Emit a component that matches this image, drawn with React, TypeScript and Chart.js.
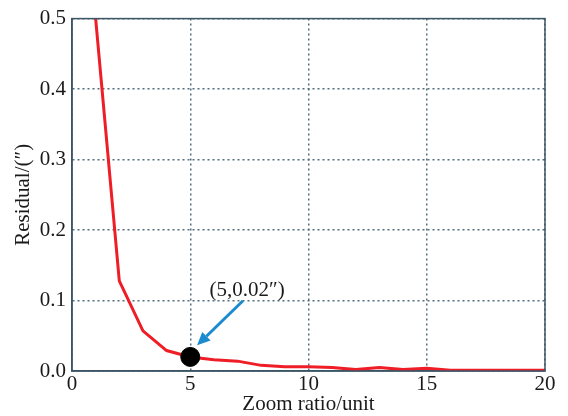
import React, { useEffect, useRef } from "react";
import { Chart, registerables } from "chart.js";

Chart.register(...registerables);

// Data
const zoomRatio = [1, 2, 3, 4, 5, 6, 7, 8, 9, 10, 11, 12, 13, 14, 15, 16, 17, 18, 19, 20];
const residual = [0.5, 0.128, 0.057, 0.029, 0.02, 0.016, 0.014, 0.008, 0.006, 0.006, 0.005, 0.002, 0.005, 0.002, 0.004, 0.001, 0.001, 0.001, 0.001, 0.001];
const highlightPoint = { x: 5, y: 0.02 };
const annotationText = "(5,0.02\u2033)";
const annotationTextPos = { x: 7.4, y: 0.114 };
const arrowFrom = { x: 7.23, y: 0.0997 };
const arrowTo = { x: 5.29, y: 0.0365 };
const xTitle = "Zoom ratio/unit";
const yTitle = "Residual/(\u2033)";

const FONT = "'Liberation Serif', 'Times New Roman', serif";
const FONT_SIZE = 21;
const AXIS_COLOR = "#3c5666";
const GRID_COLOR = "#526e7e";

const boxAndAnnotation = {
  id: "boxAndAnnotation",
  afterDatasetsDraw(chart: any) {
    const { ctx, chartArea, scales } = chart;
    const xs = scales.x;
    const ys = scales.y;
    ctx.save();
    // frame
    ctx.strokeStyle = AXIS_COLOR;
    ctx.lineWidth = 1.5;
    ctx.strokeRect(chartArea.left, chartArea.top, chartArea.right - chartArea.left, chartArea.bottom - chartArea.top);

    // arrow
    const x1 = xs.getPixelForValue(arrowFrom.x);
    const y1 = ys.getPixelForValue(arrowFrom.y);
    const x2 = xs.getPixelForValue(arrowTo.x);
    const y2 = ys.getPixelForValue(arrowTo.y);
    const ang = Math.atan2(y2 - y1, x2 - x1);
    const headLen = 13;
    const headW = 6;
    const bx = x2 - headLen * Math.cos(ang);
    const by = y2 - headLen * Math.sin(ang);
    ctx.strokeStyle = "#1b8bd0";
    ctx.fillStyle = "#1b8bd0";
    ctx.lineWidth = 3;
    ctx.beginPath();
    ctx.moveTo(x1, y1);
    ctx.lineTo(bx, by);
    ctx.stroke();
    ctx.beginPath();
    ctx.moveTo(x2, y2);
    ctx.lineTo(bx + headW * Math.sin(ang), by - headW * Math.cos(ang));
    ctx.lineTo(bx - headW * Math.sin(ang), by + headW * Math.cos(ang));
    ctx.closePath();
    ctx.fill();

    // label
    ctx.fillStyle = "#1a1a1a";
    ctx.font = `${FONT_SIZE}px ${FONT}`;
    ctx.textAlign = "center";
    ctx.textBaseline = "middle";
    ctx.fillText(annotationText, xs.getPixelForValue(annotationTextPos.x), ys.getPixelForValue(annotationTextPos.y));
    ctx.restore();
  },
};

export default function App() {
  const ref = useRef<HTMLCanvasElement>(null);
  useEffect(() => {
    document.body.style.margin = "0";
    const canvas = ref.current!;
    const chart = new Chart(canvas, {
      type: "line",
      data: {
        datasets: [
          {
            data: zoomRatio.map((x, i) => ({ x, y: residual[i] })),
            borderColor: "#ee1d26",
            borderWidth: 3,
            pointRadius: 0,
            tension: 0,
            order: 2,
          },
          {
            data: [highlightPoint],
            showLine: false,
            pointRadius: 9.5,
            pointBackgroundColor: "#000000",
            pointBorderColor: "#000000",
            order: 1,
          },
        ],
      },
      options: {
        responsive: false,
        animation: false,
        devicePixelRatio: 1,
        layout: { padding: { left: 0, top: 15, right: 23, bottom: 0 } },
        plugins: { legend: { display: false }, tooltip: { enabled: false } },
        scales: {
          x: {
            type: "linear",
            min: 0,
            max: 20,
            afterFit: (s: any) => {
              s.height = 45;
            },
            ticks: {
              stepSize: 5,
              color: "#1a1a1a",
              padding: 1,
              maxRotation: 0,
              font: { family: FONT, size: FONT_SIZE },
            },
            grid: { color: GRID_COLOR, lineWidth: 1.5, drawTicks: false },
            border: { color: AXIS_COLOR, width: 1.5, dash: [2, 3] },
            title: {
              display: true,
              text: xTitle,
              color: "#1a1a1a",
              font: { family: FONT, size: FONT_SIZE },
              padding: { top: 0, bottom: -1 },
            },
          },
          y: {
            type: "linear",
            min: 0,
            max: 0.5,
            afterFit: (s: any) => {
              s.width = 72;
            },
            ticks: {
              stepSize: 0.1,
              color: "#1a1a1a",
              padding: 6,
              font: { family: FONT, size: FONT_SIZE },
              callback: (v: any) => Number(v).toFixed(1),
            },
            grid: { color: GRID_COLOR, lineWidth: 1.5, drawTicks: false },
            border: { color: AXIS_COLOR, width: 1.5, dash: [2, 3] },
            title: {
              display: true,
              text: yTitle,
              color: "#1a1a1a",
              font: { family: FONT, size: FONT_SIZE },
              padding: { top: 11, bottom: 0 },
            },
          },
        },
      },
      plugins: [boxAndAnnotation],
    });
    return () => chart.destroy();
  }, []);
  return <canvas ref={ref} width={568} height={416} style={{ display: "block" }} />;
}
